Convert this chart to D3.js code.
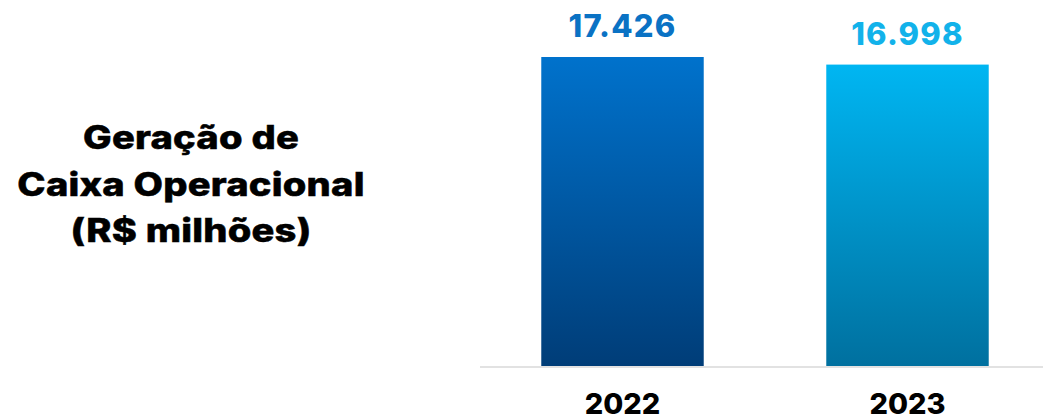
<!DOCTYPE html>
<html>
<head>
<meta charset="utf-8">
<script src="https://cdn.jsdelivr.net/npm/d3@7"></script>
<style>
  body { margin: 0; background: #fff; }
  svg { display: block; font-family: Inter, "Noto Sans", sans-serif; }
</style>
</head>
<body>
<div id="chart"></div>
<script>
const years = ['2022', '2023'];
const values = [17426, 16998];
const valueLabels = ['17.426', '16.998'];
const titleLines = ['Geração de', 'Caixa Operacional', '(R$ milhões)'];

const width = 1043, height = 417;
const colors = [
    { top: '#0072cc', bottom: '#003d78', label: '#0a72c4' },
    { top: '#00b6f2', bottom: '#00709f', label: '#12b2ea' }
];

const svg = d3.select('#chart').append('svg')
    .attr('width', width)
    .attr('height', height);

const defs = svg.append('defs');
colors.forEach((c, i) => {
    const g = defs.append('linearGradient')
        .attr('id', 'grad' + i)
        .attr('x1', 0).attr('y1', 0).attr('x2', 0).attr('y2', 1);
    g.append('stop').attr('offset', '0%').attr('stop-color', c.top);
    g.append('stop').attr('offset', '100%').attr('stop-color', c.bottom);
});

const x = d3.scaleBand()
    .domain(years)
    .range([480, 1050])
    .paddingInner(0.43)
    .paddingOuter(0.215);

const y = d3.scaleLinear()
    .domain([0, 17426])
    .range([366, 57]);

/* baseline */
svg.append('line')
    .attr('x1', 480).attr('x2', width)
    .attr('y1', 367).attr('y2', 367)
    .attr('stroke', '#d9d9d9')
    .attr('stroke-width', 1.5);

svg.selectAll('.bar')
    .data(values)
    .enter().append('rect')
    .attr('class', 'bar')
    .attr('x', (d, i) => x(years[i]))
    .attr('y', d => y(d))
    .attr('width', x.bandwidth())
    .attr('height', d => y(0) - y(d))
    .attr('fill', (d, i) => `url(#grad${i})`);

svg.selectAll('.val')
    .data(values)
    .enter().append('text')
    .attr('class', 'val')
    .attr('x', (d, i) => x(years[i]) + x.bandwidth() / 2)
    .attr('y', d => y(d) - 20)
    .attr('text-anchor', 'middle')
    .attr('font-size', 31)
    .attr('font-weight', 800)
    .attr('letter-spacing', 1.2)
    .attr('fill', (d, i) => colors[i].label)
    .text((d, i) => valueLabels[i]);

svg.selectAll('.year')
    .data(years)
    .enter().append('text')
    .attr('class', 'year')
    .attr('x', d => x(d) + x.bandwidth() / 2)
    .attr('y', 414)
    .attr('text-anchor', 'middle')
    .attr('font-size', 29)
    .attr('font-weight', 800)
    .attr('fill', '#000')
    .text(d => d);

/* title is set in a wide heavy face in the original; stretch Inter a bit */
const title = svg.append('g')
    .attr('transform', 'translate(191,0) scale(1.19,1)');

title.selectAll('.title')
    .data(titleLines)
    .enter().append('text')
    .attr('class', 'title')
    .attr('x', 0)
    .attr('y', (d, i) => 149.5 + i * 46.5)
    .attr('text-anchor', 'middle')
    .attr('font-size', 32)
    .attr('font-weight', 800)
    .attr('letter-spacing', 0.2)
    .attr('fill', '#000')
    .attr('stroke', '#000')
    .attr('stroke-width', 0.5)
    .text(d => d);
</script>
</body>
</html>
